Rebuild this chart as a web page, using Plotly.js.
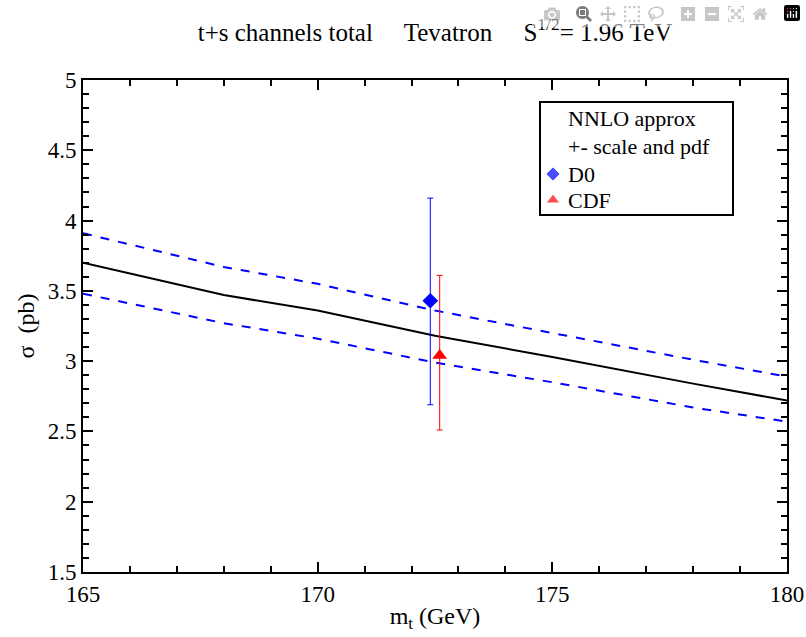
<!DOCTYPE html>
<html>
<head>
<meta charset="utf-8">
<script src="https://cdn.plot.ly/plotly-3.0.1.min.js"></script>
<style>
  html, body { margin: 0; padding: 0; background: #fff; }
  #chart { width: 806px; height: 637px; }
</style>
</head>
<body>
<div id="chart"></div>
<script>
// NNLO approximate t+s channel single-top cross section vs top mass, Tevatron 1.96 TeV
const massGrid     = [165, 168, 170, 172.5, 175, 178, 180];
const sigmaCentral = [3.70, 3.47, 3.36, 3.18, 3.03, 2.84, 2.72];
const sigmaUpper   = [3.91, 3.67, 3.55, 3.36, 3.20, 3.01, 2.89];
const sigmaLower   = [3.48, 3.27, 3.16, 2.99, 2.85, 2.67, 2.57];

// Measurements with asymmetric uncertainties
const d0Mass = [172.4], d0Sigma = [3.43], d0ErrUp = [0.73], d0ErrDown = [0.74];
const cdfMass = [172.6], cdfSigma = [3.04], cdfErrUp = [0.57], cdfErrDown = [0.53];

const legendLabels = ["NNLO approx", "+- scale and pdf", "D0", "CDF"];

const FONT = "Liberation Serif";

// legend box geometry in paper coordinates (plot area 704 x 492 px)
const px = p => (p - 83) / 704;
const py = p => (572 - p) / 492;
const rowY = [118, 146, 174, 200].map(py);

const traces = [
  { x: massGrid, y: sigmaUpper, mode: "lines", line: { color: "#0000ff", width: 2, dash: "dash" }, showlegend: false },
  { x: massGrid, y: sigmaLower, mode: "lines", line: { color: "#0000ff", width: 2, dash: "dash" }, showlegend: false },
  { x: massGrid, y: sigmaCentral, mode: "lines", line: { color: "#000000", width: 2 }, showlegend: false },
  { x: d0Mass, y: d0Sigma, mode: "markers", showlegend: false,
    marker: { symbol: "diamond", size: 12, color: "#0000ff" },
    error_y: { type: "data", symmetric: false, array: d0ErrUp, arrayminus: d0ErrDown, color: "#0000ff", thickness: 1, width: 3 } },
  { x: cdfMass, y: cdfSigma, mode: "markers", showlegend: false,
    marker: { symbol: "triangle-up", size: 13, color: "#ff0000" },
    error_y: { type: "data", symmetric: false, array: cdfErrUp, arrayminus: cdfErrDown, color: "#ff0000", thickness: 1, width: 3 } },
  // legend key symbols, drawn on an overlaid unit axis
  { x: [px(553), px(553)], y: [rowY[2], rowY[3]], xaxis: "x2", yaxis: "y2", mode: "markers", showlegend: false,
    marker: { symbol: ["diamond", "triangle-up"], size: [11, 12], color: ["#0000ff", "#ff0000"] } }
];

const annotations = legendLabels.map((t, i) => ({
  text: t, x: px(566), y: rowY[i], xref: "paper", yref: "paper", xanchor: "left", yanchor: "middle",
  showarrow: false, font: { family: FONT, size: 22, color: "#000" }
}));

const layout = {
  width: 806, height: 637,
  margin: { l: 83, r: 19, t: 80, b: 65 },
  paper_bgcolor: "#ffffff", plot_bgcolor: "#ffffff",
  font: { family: FONT, size: 23, color: "#000" },
  title: { text: "t+s channels total     Tevatron     S<sup>1/2</sup>= 1.96 TeV",
           xref: "paper", x: 0.5, xanchor: "center", yref: "container", y: 0.95, yanchor: "middle",
           font: { family: FONT, size: 25, color: "#000" } },
  xaxis: { range: [165, 180], tick0: 165, dtick: 5, ticks: "inside", ticklen: 10, tickwidth: 2, tickcolor: "#000",
    showline: true, linewidth: 2, linecolor: "#000", mirror: "allticks", showgrid: false, zeroline: false,
    tickfont: { family: FONT, size: 23, color: "#000" },
    minor: { dtick: 1, ticks: "inside", ticklen: 6, tickwidth: 2, tickcolor: "#000", showgrid: false },
    title: { text: "m<sub>t</sub> (GeV)", font: { family: FONT, size: 24, color: "#000" }, standoff: 2 } },
  yaxis: { range: [1.5, 5], tick0: 1.5, dtick: 0.5, ticks: "inside", ticklen: 10, tickwidth: 2, tickcolor: "#000",
    showline: true, linewidth: 2, linecolor: "#000", mirror: "allticks", showgrid: false, zeroline: false,
    tickfont: { family: FONT, size: 23, color: "#000" },
    minor: { dtick: 0.1, ticks: "inside", ticklen: 6, tickwidth: 2, tickcolor: "#000", showgrid: false },
    title: { text: "&#963;  (pb)", font: { family: FONT, size: 24, color: "#000" }, standoff: 6 } },
  xaxis2: { overlaying: "x", range: [0, 1], visible: false, fixedrange: true },
  yaxis2: { overlaying: "y", range: [0, 1], visible: false, fixedrange: true },
  shapes: [{ type: "rect", xref: "paper", yref: "paper", x0: px(540), x1: px(733), y0: py(215), y1: py(102),
      line: { color: "#000", width: 2 }, fillcolor: "rgba(0,0,0,0)", layer: "above" }],
  annotations: annotations,
  showlegend: false
};

Plotly.newPlot("chart", traces, layout);
</script>
</body>
</html>
